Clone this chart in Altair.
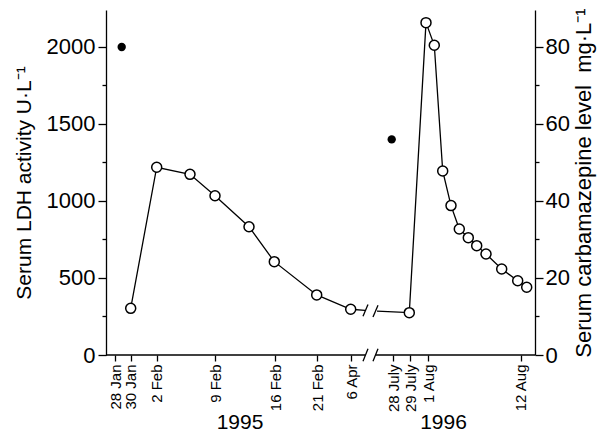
import altair as alt
import pandas as pd

# ---- data (x positions on the broken date axis) ----
ldh_pos = [24.7, 50.7, 84, 109, 143, 168.3, 210.7, 244.7,
           303.3, 320, 328.3, 336.7, 345, 353.3, 362.3, 370.7, 380, 395.7, 411.7, 420.7]
ldh_val = [303, 1219, 1173, 1034, 833, 606, 390, 297,
           275, 2158, 2011, 1195, 970, 818, 762, 710, 656, 558, 482, 440]
ldh_seg = ["1995"] * 8 + ["1996"] * 12

cbz_pos = [15.7, 285.7]
cbz_val = [80, 56]

tick_pos = [9, 24.7, 50.7, 109, 169, 211, 245, 287, 304, 322, 414.7]
tick_labels = ["28 Jan", "30 Jan", "2 Feb", "9 Feb", "16 Feb", "21 Feb", "6 Apr",
               "28 July", "29 July", "1 Aug", "12 Aug"]

years = ["1995", "1996"]
year_pos = [134, 337.5]

# axis break
X_MAX = 429
BREAK_L, BREAK_R = 259, 271
stub_val = [290, 285]

FONT = "Liberation Sans, Arial, Helvetica, sans-serif"

pts = pd.DataFrame({"x": ldh_pos, "ldh": ldh_val, "seg": ldh_seg})
line_df = pd.concat([
    pts,
    pd.DataFrame({"x": [BREAK_L, BREAK_R], "ldh": stub_val, "seg": ["1995", "1996"]}),
]).sort_values("x")
cbz = pd.DataFrame({"x": cbz_pos, "cbz": cbz_val})
base_df = pd.DataFrame({"x": [0, BREAK_R - 1], "x2": [BREAK_L, X_MAX], "y": [0, 0]})
slash_df = pd.DataFrame({
    "x": [BREAK_L - 2, BREAK_R - 4, BREAK_L - 2, BREAK_R - 4],
    "x2": [BREAK_L + 3, BREAK_R + 1, BREAK_L + 3, BREAK_R + 1],
    "y": [-40, -40, stub_val[0] - 38, stub_val[1] - 38],
    "y2": [40, 40, stub_val[0] + 38, stub_val[1] + 38],
})
year_df = pd.DataFrame({"x": year_pos, "t": years})

labels_js = "[" + ",".join("'%s'" % t for t in tick_labels) + "]"
pos_js = "[" + ",".join(str(p) for p in tick_pos) + "]"

xscale = alt.Scale(domain=[0, X_MAX], nice=False, zero=False)
xaxis = alt.Axis(values=tick_pos, labelExpr=f"{labels_js}[indexof({pos_js}, datum.value)]",
                 labelAngle=270, labelFontSize=15, tickSize=6, domain=False,
                 labelOverlap=False, grid=False, title=None, labelPadding=3)
yscale = alt.Scale(domain=[0, 2240], nice=False)
yaxis = alt.Axis(values=list(range(0, 2001, 250)),
                 labelExpr="datum.value % 500 === 0 ? datum.value : ''",
                 tickSize={"condition": {"test": "datum.value % 500 === 0", "value": 8}, "value": 4},
                 title="Serum LDH activity U·L⁻¹", grid=False, labelFontSize=22,
                 labelOverlap=False, titleFontSize=21, titleFontWeight="normal",
                 labelPadding=3, titlePadding=12)

X = alt.X("x:Q", scale=xscale, axis=xaxis)
Xn = alt.X("x:Q", scale=xscale)
Y = alt.Y("ldh:Q", scale=yscale, axis=yaxis)

line = alt.Chart(line_df).mark_line(color="black", strokeWidth=1.3).encode(
    x=X, y=Y, detail="seg:N", order="x:Q")
points = alt.Chart(pts).mark_point(shape="circle", filled=True, fill="white", stroke="black",
                                   strokeWidth=1.5, size=100, opacity=1).encode(x=Xn, y="ldh:Q")
baseline = alt.Chart(base_df).mark_rule(color="black", strokeWidth=1.3).encode(
    x=Xn, x2="x2:Q", y="y:Q")
slashes = alt.Chart(slash_df).mark_rule(color="black", strokeWidth=1.3).encode(
    x=Xn, x2="x2:Q", y="y:Q", y2="y2:Q")
yrs = alt.Chart(year_df).mark_text(fontSize=21, font=FONT, baseline="middle").encode(
    x=Xn, y=alt.value(413), text="t:N")

left = alt.layer(line, baseline, slashes, points, yrs)

right = alt.Chart(cbz).mark_point(shape="circle", filled=True, color="black", size=70,
                                  opacity=1).encode(
    x=Xn,
    y=alt.Y("cbz:Q", scale=alt.Scale(domain=[0, 89.6], nice=False),
            axis=alt.Axis(orient="right", values=list(range(0, 81, 10)),
                          labelExpr="datum.value % 20 === 0 ? datum.value : ''",
                          tickSize={"condition": {"test": "datum.value % 20 === 0", "value": 8}, "value": 4},
                          title="Serum carbamazepine level\u00a0\u00a0mg·L⁻¹", grid=False,
                          labelOverlap=False, labelFontSize=22, titleFontSize=22,
                          titleFontWeight="normal", titleAngle=270, titleBaseline="top",
                          labelPadding=2, titlePadding=4)))

chart = alt.layer(left, right).resolve_scale(y="independent").properties(
    width=429, height=345, autosize=alt.AutoSizeParams(type="none"),
    padding={"left": 98, "top": 2, "right": 66, "bottom": 82},
).configure_axis(
    labelFont=FONT, titleFont=FONT, labelColor="black", titleColor="black",
    domainColor="black", tickColor="black", domainWidth=1.3, tickWidth=1.3,
).configure_view(stroke=None)

chart.save("out.html", embed_options={"renderer": "svg", "actions": False})
